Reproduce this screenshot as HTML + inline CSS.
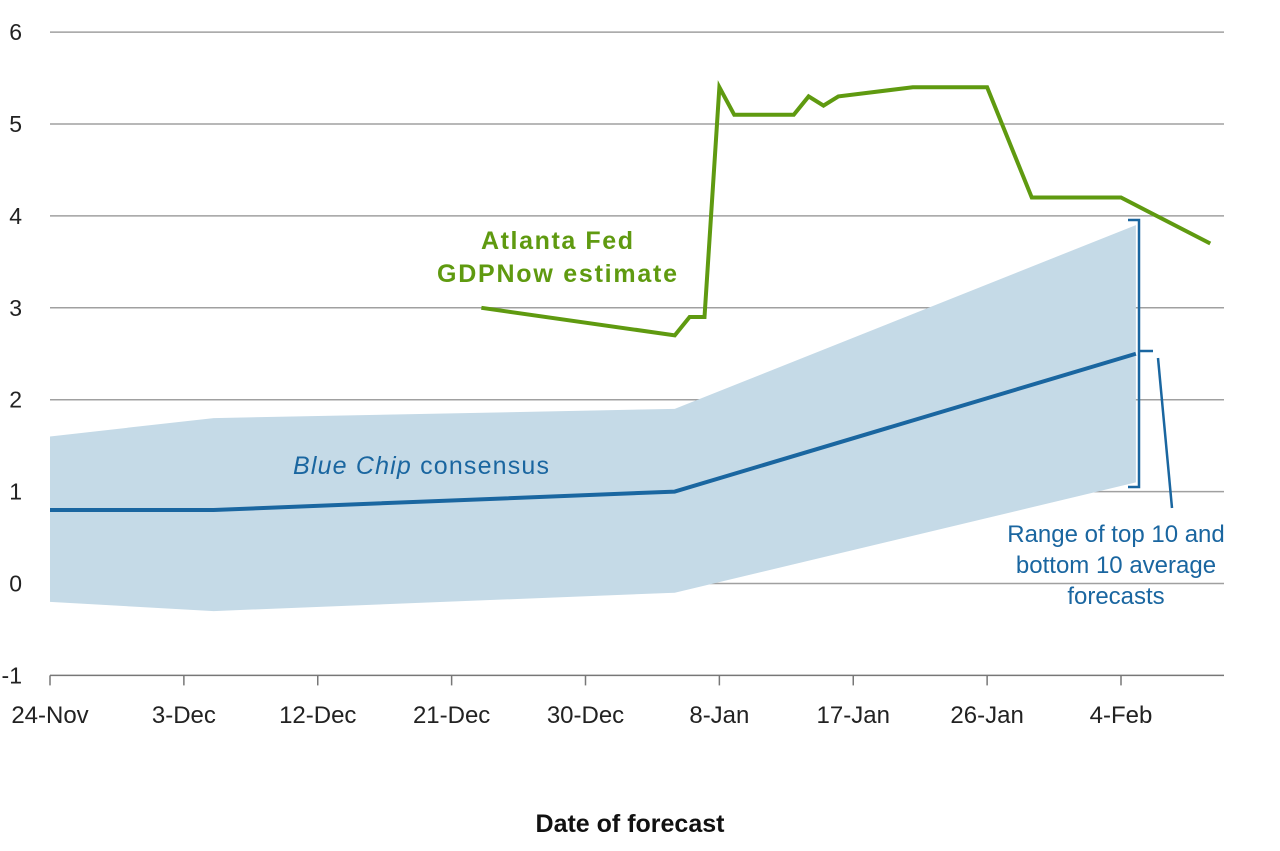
<!DOCTYPE html>
<html><head><meta charset="utf-8"><style>
body{margin:0;background:#fff;}
svg text{font-family:"Liberation Sans",sans-serif;}
</style></head><body>
<svg id="chart" width="1280" height="846" viewBox="0 0 1280 846" xmlns="http://www.w3.org/2000/svg">
<g id="grid"></g>
<g id="band"></g>
<g id="lines"></g>
<g id="axes"></g>
<text x="557" y="249" text-anchor="middle" font-size="25" font-weight="bold" fill="#5f9a10" textLength="152">Atlanta Fed</text>
<text x="557" y="282" text-anchor="middle" font-size="25" font-weight="bold" fill="#5f9a10" textLength="240">GDPNow estimate</text>
<text x="421" y="474" text-anchor="middle" font-size="25" fill="#1a66a0" textLength="256"><tspan font-style="italic">Blue Chip</tspan> consensus</text>
<g fill="none" stroke="#1a66a0" stroke-width="2.5">
<polyline points="1128,220 1139,220 1139,487 1128,487"/>
<line x1="1139" y1="351" x2="1153" y2="351"/>
<line x1="1158" y1="358" x2="1172" y2="508"/>
</g>
<text font-size="24" fill="#1a66a0" text-anchor="middle"><tspan x="1116" y="542">Range of top 10 and</tspan><tspan x="1116" y="573">bottom 10 average</tspan><tspan x="1116" y="604">forecasts</tspan></text>
<text x="630" y="832" text-anchor="middle" font-size="25" font-weight="bold" fill="#111">Date of forecast</text>
</svg>
<script>
const yTicks=[-1,0,1,2,3,4,5,6];
const xTickLabels=["24-Nov","3-Dec","12-Dec","21-Dec","30-Dec","8-Jan","17-Jan","26-Jan","4-Feb"];
const xTickDays=[0,9,18,27,36,45,54,63,72];
const bcDays=[0,11,42,73];
const bcValues=[0.8,0.8,1.0,2.5];
const bandUpper=[1.6,1.8,1.9,3.9];
const bandLower=[-0.2,-0.3,-0.1,1.1];
const gnDays=[29,42,43,44,45,46,50,51,52,53,58,63,66,72,78];
const gnValues=[3.0,2.7,2.9,2.9,5.4,5.1,5.1,5.3,5.2,5.3,5.4,5.4,4.2,4.2,3.7];
const NS="http://www.w3.org/2000/svg";
const X=d=>50+d*14.875;
const Y=v=>583.5-v*91.9;
function mk(tag,attrs,parent){const e=document.createElementNS(NS,tag);for(const k in attrs)e.setAttribute(k,attrs[k]);parent.appendChild(e);return e;}
const grid=document.getElementById('grid'),axes=document.getElementById('axes'),band=document.getElementById('band'),lines=document.getElementById('lines');
yTicks.forEach(v=>{
 if(v>-1){const l=mk('line',{x1:50,x2:1224,y1:Y(v),y2:Y(v),stroke:'#a0a0a0','stroke-width':1.5},grid);
 
 }
 const t=mk('text',{x:22,y:Y(v)+8,'text-anchor':'end','font-size':23,fill:'#222'},axes);t.textContent=v;
 
 
});
const ax=mk('line',{x1:50,x2:1224,y1:Y(-1),y2:Y(-1),stroke:'#777','stroke-width':1.5},axes);


xTickDays.forEach((d,i)=>{
 const tk=mk('line',{x1:X(d),x2:X(d),y1:Y(-1),y2:Y(-1)+10,stroke:'#777','stroke-width':1.5},axes);
 
 
 const t=mk('text',{x:X(d),y:723,'text-anchor':'middle','font-size':24,fill:'#222'},axes);t.textContent=xTickLabels[i];
 
 
});
let pts=bcDays.map((d,i)=>X(d)+','+Y(bandUpper[i]));
for(let i=bcDays.length-1;i>=0;i--)pts.push(X(bcDays[i])+','+Y(bandLower[i]));
const poly=mk('polygon',{points:pts.join(' '),fill:'#c5dae7'},band);


const bc=mk('polyline',{points:bcDays.map((d,i)=>X(d)+','+Y(bcValues[i])).join(' '),fill:'none',stroke:'#1a66a0','stroke-width':4,'stroke-linejoin':'round'},lines);


const gn=mk('polyline',{points:gnDays.map((d,i)=>X(d)+','+Y(gnValues[i])).join(' '),fill:'none',stroke:'#5f9a10','stroke-width':4,'stroke-linejoin':'miter'},lines);


</script>
</body></html>
